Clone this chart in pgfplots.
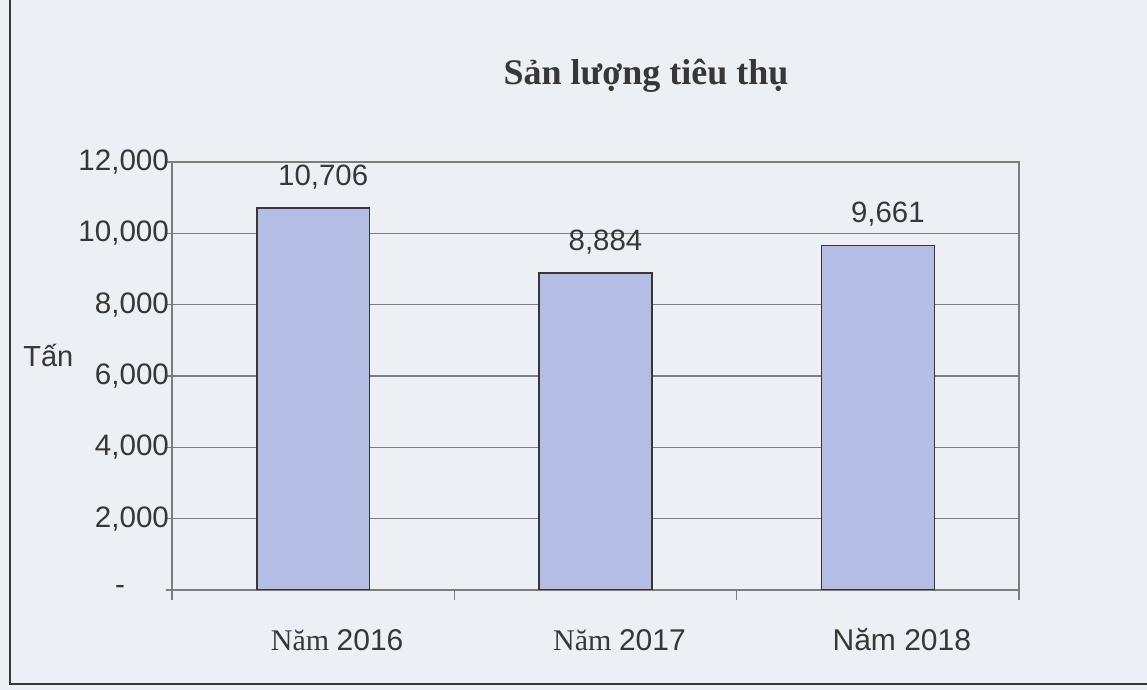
\documentclass[border=0pt]{standalone}
\usepackage{fontspec}
\setmainfont{Liberation Serif}
\setsansfont{Liberation Sans}
\usepackage{pgfplots}
\usepackage{pgfplotstable}
\pgfplotsset{compat=1.18}

\definecolor{paper}{RGB}{236,239,243}
\definecolor{barfill}{RGB}{180,190,228}
\definecolor{ink}{RGB}{55,55,55}
\definecolor{gridc}{RGB}{125,125,125}

% san luong tieu thu (tan)
\pgfplotstableread{
x y lab
0 10706 10,706
1 8884 8,884
2 9661 9,661
}\sales

\begin{document}
\begin{tikzpicture}
\useasboundingbox (0pt,0pt) rectangle (573.5pt,345pt);
\clip (0pt,0pt) rectangle (573.5pt,345pt);
\fill[paper] (0pt,0pt) rectangle (573.5pt,345pt);
\draw[ink, line width=1.1pt] (5pt,360pt) -- (5pt,3pt) -- (590pt,3pt);

\begin{axis}[
    at={(86pt,50pt)}, anchor=south west,
    scale only axis, width=423.5pt, height=214pt,
    xmin=-0.5, xmax=2.5, ymin=0, ymax=12000,
    enlargelimits=false,
    scaled y ticks=false,
    axis line style={gridc, line width=0.6pt},
    tick pos=left,
    xtick={0,1,2},
    xticklabels={{\rmfamily Năm \sffamily 2016},{\rmfamily Năm \sffamily 2017},{\sffamily Năm 2018}},
    xtick style={draw=none},
    xticklabel style={font=\fontsize{15}{17}\selectfont, text=ink, anchor=base, yshift=-27.5pt, xshift=12pt},
    extra x ticks={-0.5,0.5,1.5,2.5},
    extra x tick labels={},
    extra x tick style={xtick style={draw=gridc, line width=0.6pt}, tick align=outside, major tick length=5pt},
    ytick={0,2000,...,12000},
    yticklabels={{-\rule{22pt}{0pt}},{2,000},{4,000},{6,000},{8,000},{10,000},{12,000}},
    yticklabel style={font=\sffamily\fontsize{14.8}{16}\selectfont, text=ink, xshift=5pt},
    ytick style={draw=gridc, line width=0.6pt},
    tick align=outside, major tick length=3pt,
    ymajorgrids=true,
    grid style={gridc, line width=0.6pt},
]
\addplot[ybar, bar width=0.4, fill=barfill, draw=ink, line width=0.8pt,
    point meta=explicit symbolic, nodes near coords,
    every node near coord/.append style={font=\sffamily\fontsize{14.7}{16}\selectfont, text=ink, anchor=base, yshift=11.5pt, xshift=5pt}]
    table[x=x, y=y, meta=lab] {\sales};
\end{axis}

\node[anchor=base, font=\bfseries\fontsize{18}{20}\selectfont, text=ink] at (323pt,302.5pt) {Sản lượng tiêu thụ};
\node[anchor=base west, inner sep=0pt, font=\sffamily\fontsize{14.5}{16}\selectfont, text=ink] at (11.5pt,161.5pt) {Tấn};
\end{tikzpicture}
\end{document}
